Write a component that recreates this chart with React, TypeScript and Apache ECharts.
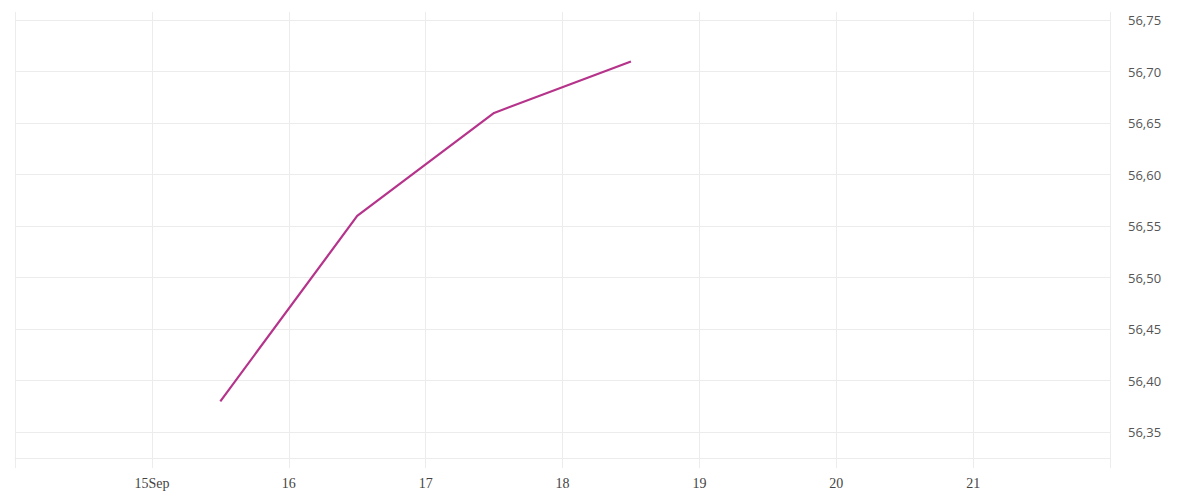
import { useEffect, useRef } from "react";
import * as echarts from "echarts";

// series (one point per day, at noon)
const pointTimes = ["2023-09-15T12:00", "2023-09-16T12:00", "2023-09-17T12:00", "2023-09-18T12:00"];
const pointValues = [56.38, 56.56, 56.66, 56.71];

// x axis: daily ticks / grid lines, labels on 15..21
const tickDays = [
  "2023-09-14T00:00", "2023-09-15T00:00", "2023-09-16T00:00", "2023-09-17T00:00", "2023-09-18T00:00",
  "2023-09-19T00:00", "2023-09-20T00:00", "2023-09-21T00:00", "2023-09-22T00:00",
];
const labelDays = [
  "2023-09-15T00:00", "2023-09-16T00:00", "2023-09-17T00:00", "2023-09-18T00:00",
  "2023-09-19T00:00", "2023-09-20T00:00", "2023-09-21T00:00",
];
const labelTexts = ["15Sep", "16", "17", "18", "19", "20", "21"];

// y axis
const yTicks = [56.35, 56.4, 56.45, 56.5, 56.55, 56.6, 56.65, 56.7, 56.75];
const yMin = 56.325;
const yMax = 56.758;

const toTime = (s: string) => new Date(s).getTime();

const GRID_COLOR = "#ececec";
const LINE_COLOR = "#b5338a";

const App = () => {
  const chartRef = useRef<HTMLDivElement>(null);

  useEffect(() => {
    if (!chartRef.current) {
      return;
    }
    const chart = echarts.init(chartRef.current, null, { renderer: "svg" });

    const labelTimes = labelDays.map(toTime);

    // time values on a plain value axis, so custom ticks/labels work
    const option: echarts.EChartsOption = {
      animation: false,
      grid: { left: 15, right: 90, top: 12, bottom: 42 },
      xAxis: {
        type: "value",
        min: toTime(tickDays[0]),
        max: toTime(tickDays[tickDays.length - 1]),
        axisLine: { show: true, lineStyle: { color: GRID_COLOR, width: 1 } },
        axisTick: {
          show: true,
          length: 10,
          customValues: tickDays.map(toTime),
          lineStyle: { color: GRID_COLOR, width: 1 },
        },
        axisLabel: {
          customValues: labelTimes,
          color: "#444444",
          fontFamily: "Liberation Serif",
          fontSize: 14,
          margin: 18,
          formatter: (value: number) => {
            const idx = labelTimes.indexOf(value);
            return idx >= 0 ? labelTexts[idx] : "";
          },
        },
        splitLine: { show: true, lineStyle: { color: GRID_COLOR, width: 1 } },
      },
      yAxis: {
        type: "value",
        position: "right",
        min: yMin,
        max: yMax,
        axisLine: { show: false },
        axisTick: { show: false, customValues: yTicks },
        axisLabel: {
          customValues: yTicks,
          color: "#555555",
          fontFamily: "Open Sans",
          fontSize: 13,
          margin: 18,
          formatter: (value: number) => value.toFixed(2).replace(".", ","),
        },
        splitLine: { show: true, lineStyle: { color: GRID_COLOR, width: 1 } },
      },
      series: [
        {
          type: "line",
          data: pointTimes.map((t, i) => [toTime(t), pointValues[i]]),
          symbol: "none",
          lineStyle: { color: LINE_COLOR, width: 2.2 },
        },
      ],
    };

    chart.setOption(option);

    return () => {
      chart.dispose();
    };
  }, []);

  return (
    <div
      ref={chartRef}
      style={{ position: "fixed", left: 0, top: 0, width: 1200, height: 500, background: "#ffffff" }}
    />
  );
};

export default App;
